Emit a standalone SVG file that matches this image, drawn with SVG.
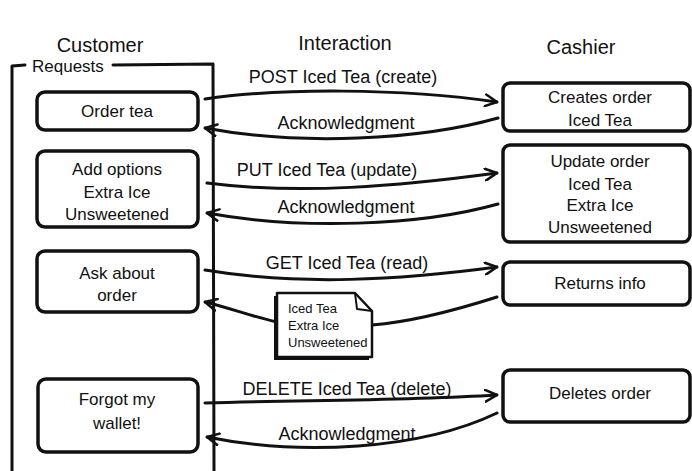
<svg xmlns="http://www.w3.org/2000/svg" width="692" height="471" viewBox="0 0 692 471">
<defs>
<style>
text{font-family:"Liberation Sans",Arial,sans-serif;fill:#111;}
.h{font-size:20px;text-anchor:middle;}
.t{font-size:17px;text-anchor:middle;}
.l{font-size:18px;text-anchor:middle;}
.n{font-size:13px;}
.box{fill:#fff;stroke:#111;stroke-width:3.5;}
.ln{fill:none;stroke:#111;stroke-width:3;stroke-linecap:round;stroke-linejoin:round;}
</style>
<marker id="ah" viewBox="0 0 12 12" refX="11" refY="6" markerWidth="14" markerHeight="14" markerUnits="userSpaceOnUse" orient="auto">
<path d="M1,1 L11,6 L1,11" fill="none" stroke="#111" stroke-width="2.2" stroke-linecap="round" stroke-linejoin="round"/>
</marker>
</defs>
<rect width="692" height="471" fill="#fff"/>
<g id="headers">
<text class="h" x="100" y="52">Customer</text>
<text class="h" x="345" y="50">Interaction</text>
<text class="h" x="581" y="54">Cashier</text>
</g>
<g id="requests-frame">
<path class="ln" d="M25,65 L12,66 L12,471"/>
<path class="ln" d="M113,65 L213,64 L214,471"/>
<text x="32" y="72" style="font-size:17px">Requests</text>
</g>
<g id="order-tea">
<rect class="box" x="37" y="92" width="161" height="38" rx="8"/>
<text class="t" x="117" y="117">Order tea</text>
</g>
<g id="add-options">
<rect class="box" x="37" y="151" width="161" height="76" rx="8"/>
<text class="t" x="117" y="175">Add options</text>
<text class="t" x="117" y="198">Extra Ice</text>
<text class="t" x="117" y="220">Unsweetened</text>
</g>
<g id="ask-about">
<rect class="box" x="37" y="251" width="161" height="61" rx="8"/>
<text class="t" x="117" y="279">Ask about</text>
<text class="t" x="117" y="301">order</text>
</g>
<g id="forgot-wallet">
<rect class="box" x="38" y="379" width="160" height="73" rx="8"/>
<text class="t" x="117" y="405">Forgot my</text>
<text class="t" x="117" y="429">wallet!</text>
</g>
<g id="creates-order">
<rect class="box" x="503" y="83" width="187" height="48" rx="7"/>
<text class="t" x="600" y="103">Creates order</text>
<text class="t" x="600" y="126">Iced Tea</text>
</g>
<g id="update-order">
<rect class="box" x="503" y="145" width="187" height="97" rx="7"/>
<text class="t" x="600" y="167">Update order</text>
<text class="t" x="600" y="190">Iced Tea</text>
<text class="t" x="600" y="211">Extra Ice</text>
<text class="t" x="600" y="233">Unsweetened</text>
</g>
<g id="returns-info">
<rect class="box" x="503" y="262" width="187" height="43" rx="7"/>
<text class="t" x="600" y="289">Returns info</text>
</g>
<g id="deletes-order">
<rect class="box" x="503" y="370" width="187" height="52" rx="7"/>
<text class="t" x="600" y="399">Deletes order</text>
</g>
<g id="connectors">
<path class="ln" d="M205,99 C280,88 400,88 497,102" marker-end="url(#ah)"/>
<path class="ln" d="M498,118 C420,140 300,146 205,128" marker-end="url(#ah)"/>
<path class="ln" d="M207,183 C300,195 400,186 497,173" marker-end="url(#ah)"/>
<path class="ln" d="M498,204 C420,226 300,230 207,213" marker-end="url(#ah)"/>
<path class="ln" d="M205,270 C300,286 400,280 497,267" marker-end="url(#ah)"/>
<path class="ln" d="M497,297 C450,312 410,322 372,325"/>
<path class="ln" d="M277,322 C250,316 230,308 205,302" marker-end="url(#ah)"/>
<path class="ln" d="M205,403 C300,400 400,401 497,395" marker-end="url(#ah)"/>
<path class="ln" d="M497,413 C420,450 300,456 207,437" marker-end="url(#ah)"/>
<text class="l" x="343" y="83">POST Iced Tea (create)</text>
<text class="l" x="346" y="129">Acknowledgment</text>
<text class="l" x="327" y="176">PUT Iced Tea (update)</text>
<text class="l" x="346" y="213">Acknowledgment</text>
<text class="l" x="347" y="269">GET Iced Tea (read)</text>
<text class="l" x="347" y="395">DELETE Iced Tea (delete)</text>
<text class="l" x="347" y="440">Acknowledgment</text>
</g>
<g id="note">
<path d="M274,296 L352,296 L369,314 L369,360 L274,360 Z" fill="#111"/>
<path d="M277,293 L355,293 L372,311 L372,357 L277,357 Z" fill="#fff" stroke="#111" stroke-width="2.5" stroke-linejoin="round"/>
<path d="M355,293 L357,309 L372,311" fill="none" stroke="#111" stroke-width="2" stroke-linejoin="round"/>
<text class="n" x="288" y="313">Iced Tea</text>
<text class="n" x="288" y="330">Extra Ice</text>
<text class="n" x="288" y="347">Unsweetened</text>
</g>
</svg>
